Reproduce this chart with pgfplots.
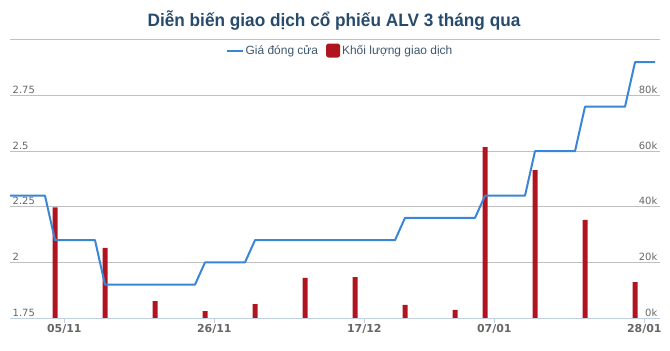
\documentclass[border=0pt]{standalone}
\usepackage{pgfplots}
\pgfplotsset{compat=1.18}
\usepackage{fontspec}
\setmainfont{Liberation Sans}
\newfontfamily\titlefont[FakeStretch=0.96]{Liberation Sans}
\newfontfamily\dvfont{DejaVu Sans}
\definecolor{pricecol}{HTML}{3A86D6}
\definecolor{volcol}{HTML}{B0151F}
\definecolor{titlecol}{HTML}{274B6D}
\definecolor{gridcol}{HTML}{C0C0C0}
\definecolor{axiscol}{HTML}{C0D0E0}
\definecolor{labcol}{HTML}{666666}
\definecolor{legcol}{HTML}{3E576F}
\begin{document}
\begin{tikzpicture}[x=1bp,y=1bp]
\useasboundingbox (0,0) rectangle (670,350);
\node[font=\titlefont\bfseries\fontsize{18}{21}\selectfont, text=titlecol] at (334,330) {Diễn biến giao dịch cổ phiếu ALV 3 tháng qua};
\begin{axis}[
 at={(10bp,32bp)}, anchor=south west, scale only axis, width=650bp, height=278bp,
 xmin=0.5, xmax=65.5, ymin=0, ymax=100000,
 hide x axis,
 axis y line*=right,
 y axis line style={draw=none},
 ytick={0,20000,40000,60000,80000,100000},
 yticklabels={0k,20k,40k,60k,80k,{}},
 ymajorgrids, grid style={gridcol, line width=1bp},
 major tick length=0pt,
 ytick style={draw=none},
 yticklabel style={anchor=south east, font=\dvfont\fontsize{10}{12}\selectfont, text=labcol, inner sep=1.5bp, xshift=-1bp},
 scaled y ticks=false,
 legend columns=2,
 legend cell align=left,
 legend style={at={(0.5,1)}, anchor=north, xshift=5bp, yshift=-1bp, draw=none, fill=none,
   font=\fontsize{12}{14}\selectfont, text=legcol,
   /tikz/every even column/.append style={column sep=6bp}},
]
\addlegendimage{legend image code/.code={\draw[pricecol, line width=2bp] (0bp,0bp) -- (16bp,0bp);}}
\addlegendentry{Giá đóng cửa}
\addplot[ybar, bar width=5bp, fill=volcol, draw=none,
  legend image code/.code={\fill[volcol, rounded corners=2.5bp] (0bp,-7bp) rectangle (14bp,7bp);}]
  coordinates {(5,39800) (10,25200) (15,6100) (20,2500) (25,5000) (30,14400) (35,14700)
   (40,4700) (45,2900) (48,61500) (53,53200) (58,35300) (63,12900)};
\addlegendentry{Khối lượng giao dịch}
\end{axis}
\begin{axis}[
 at={(10bp,32bp)}, anchor=south west, scale only axis, width=650bp, height=278bp,
 xmin=0.5, xmax=65.5, ymin=1.75, ymax=3,
 axis x line*=bottom, axis y line*=left,
 y axis line style={draw=none},
 x axis line style={axiscol, line width=1bp, -},
 xtick={5.93,20.93,35.93,48.93,63.93},
 xticklabels={05/11,26/11,17/12,07/01,28/01},
 xtick style={axiscol, line width=1bp},
 tick align=outside, major tick length=5bp,
 ytick={1.75,2,2.25,2.5,2.75},
 yticklabels={1.75,2,2.25,2.5,2.75},
 ytick style={draw=none},
 yticklabel style={anchor=south west, font=\dvfont\fontsize{10}{12}\selectfont, text=labcol, inner sep=1.5bp, xshift=6bp},
 xticklabel style={font=\dvfont\bfseries\fontsize{11}{13}\selectfont, text=labcol, inner sep=1bp},
]
\addplot[pricecol, line width=2bp, line join=round] coordinates {
 (0.5,2.3) (4,2.3) (5,2.1) (9,2.1) (10,1.9) (19,1.9) (20,2.0) (24,2.0) (25,2.1)
 (39,2.1) (40,2.2) (47,2.2) (48,2.3) (52,2.3) (53,2.5) (57,2.5) (58,2.7) (62,2.7)
 (63,2.9) (65,2.9)};
\end{axis}
\end{tikzpicture}
\end{document}
